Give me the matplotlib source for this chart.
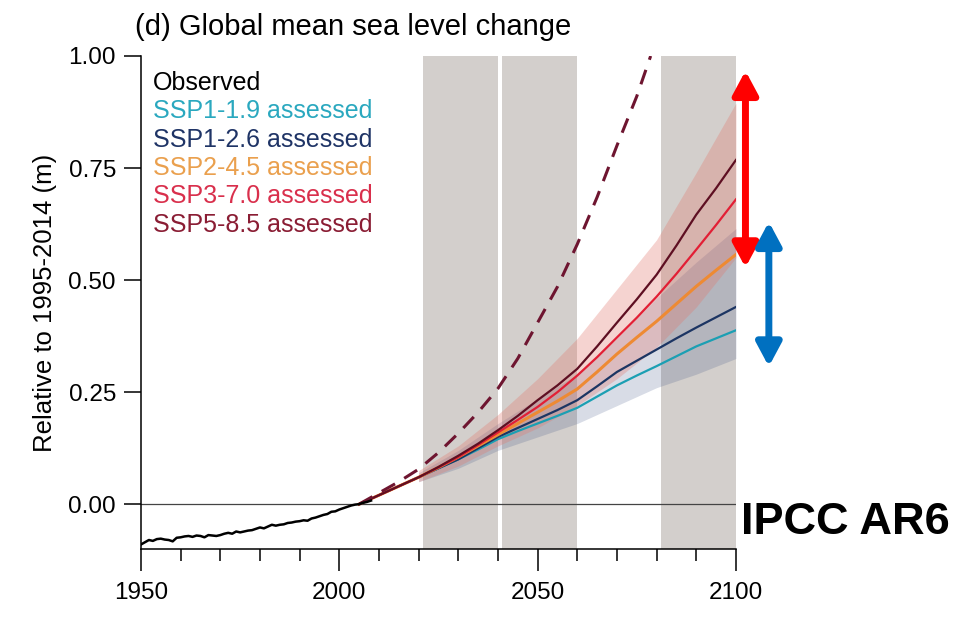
import numpy as np
import matplotlib as mpl
mpl.use("Agg")
import matplotlib.pyplot as plt

# observed GMSL (m, relative to 1995-2014)
obsYears = np.arange(1950, 2009)
obsVals = [-0.090, -0.085, -0.080, -0.082, -0.078, -0.077, -0.079, -0.080, -0.083, -0.075,
           -0.074, -0.072, -0.071, -0.073, -0.070, -0.071, -0.074, -0.069, -0.070, -0.071,
           -0.069, -0.066, -0.064, -0.066, -0.061, -0.063, -0.061, -0.059, -0.058, -0.055,
           -0.052, -0.054, -0.050, -0.046, -0.048, -0.046, -0.045, -0.042, -0.041, -0.039,
           -0.038, -0.036, -0.037, -0.032, -0.030, -0.027, -0.024, -0.022, -0.017, -0.016,
           -0.012, -0.009, -0.006, -0.003, -0.001, 0.000, 0.003, 0.005, 0.008]

# assessed medians, every 5 years 2005-2100
projYears = np.arange(2005, 2101, 5)
ssp119 = [0.0, 0.02, 0.04, 0.06, 0.080, 0.100, 0.122, 0.145, 0.163, 0.180,
          0.197, 0.215, 0.240, 0.265, 0.287, 0.308, 0.330, 0.352, 0.370, 0.388]
ssp126 = [0.0, 0.02, 0.04, 0.06, 0.080, 0.100, 0.125, 0.150, 0.170, 0.190,
          0.210, 0.232, 0.263, 0.295, 0.320, 0.345, 0.370, 0.394, 0.417, 0.440]
ssp245 = [0.0, 0.02, 0.04, 0.06, 0.082, 0.105, 0.130, 0.155, 0.180, 0.205,
          0.230, 0.257, 0.295, 0.335, 0.372, 0.408, 0.447, 0.486, 0.522, 0.557]
ssp370 = [0.0, 0.02, 0.04, 0.06, 0.082, 0.105, 0.132, 0.160, 0.188, 0.217,
          0.250, 0.287, 0.328, 0.372, 0.416, 0.463, 0.514, 0.568, 0.623, 0.680]
ssp585 = [0.0, 0.02, 0.04, 0.06, 0.083, 0.108, 0.135, 0.165, 0.197, 0.232,
          0.265, 0.302, 0.352, 0.405, 0.457, 0.512, 0.577, 0.646, 0.705, 0.768]

# likely ranges (shaded)
bandYears = [2020, 2030, 2040, 2050, 2060, 2070, 2080, 2090, 2100]
ssp126Lo = [0.050, 0.080, 0.120, 0.150, 0.180, 0.220, 0.260, 0.290, 0.325]
ssp126Hi = [0.070, 0.120, 0.180, 0.235, 0.290, 0.370, 0.460, 0.540, 0.615]
ssp370Lo = [0.050, 0.085, 0.130, 0.170, 0.220, 0.280, 0.350, 0.440, 0.550]
ssp370Hi = [0.075, 0.130, 0.200, 0.280, 0.370, 0.480, 0.590, 0.740, 0.895]

# SSP5-8.5 low-likelihood, high-impact storyline (dashed)
llhiYears = [2005, 2010, 2015, 2020, 2025, 2030, 2035, 2040, 2045, 2050, 2055, 2060, 2065, 2070, 2075, 2078.5]
llhiVals = [0.0, 0.025, 0.050, 0.078, 0.115, 0.158, 0.205, 0.258, 0.325, 0.405, 0.485, 0.580, 0.685, 0.800, 0.910, 1.0]

periods = [(2021, 2040), (2041, 2060), (2081, 2100)]

legendNames = ["Observed", "SSP1-1.9 assessed", "SSP1-2.6 assessed", "SSP2-4.5 assessed",
               "SSP3-7.0 assessed", "SSP5-8.5 assessed"]
legendColors = ["black", "#2aa8bf", "#1f3466", "#eaa04e", "#d92f4c", "#8a1d34"]

# ranges highlighted by the arrows (top, bottom)
redRange = (0.967, 0.528)
blueRange = (0.630, 0.307)

plt.rcParams['font.family'] = ['Liberation Sans', 'DejaVu Sans']

fig = plt.figure(figsize=(9.57, 6.18), dpi=100)
ax = fig.add_axes([0.1473, 0.1117, 0.6217, 0.7977])

for p0, p1 in periods:
  ax.axvspan(p0, p1, ymin=0, ymax=1, color='#d3cfcc', lw=0, zorder=0)
ax.axhline(0, color='#444444', lw=0.9, zorder=1)

ax.fill_between(bandYears, ssp126Lo, ssp126Hi, color='#3c5082', alpha=0.2, lw=0, zorder=2)
ax.fill_between(bandYears, ssp370Lo, ssp370Hi, color='#e2786e', alpha=0.32, lw=0, zorder=2)

ax.plot(projYears, ssp119, color='#1b9fb3', lw=1.6, zorder=4)
ax.plot(projYears, ssp126, color='#1c3563', lw=1.6, zorder=4)
ax.plot(projYears, ssp245, color='#ee8a33', lw=2.2, zorder=4)
ax.plot(projYears, ssp370, color='#e21f35', lw=1.6, zorder=5)
ax.plot(projYears, ssp585, color='#5e0f22', lw=1.6, zorder=6)
ax.plot(llhiYears, llhiVals, color='#6e1530', lw=2.2, dashes=(5, 3.5), zorder=6)
ax.plot(obsYears, obsVals, color='black', lw=1.8, zorder=7)

ax.set_xlim(1950, 2100)
ax.set_ylim(-0.1, 1.0)
for s in ['top', 'right']:
  ax.spines[s].set_visible(False)
for s in ['left', 'bottom']:
  ax.spines[s].set_linewidth(1.1)

ax.set_xticks([1950, 2000, 2050, 2100])
ax.set_xticks(np.arange(1950, 2101, 10), minor=True)
ax.set_yticks([0, 0.25, 0.5, 0.75, 1.0])
ax.set_yticklabels(['%.2f' % v for v in [0, 0.25, 0.5, 0.75, 1.0]])
ax.tick_params(axis='x', which='major', length=16, width=1.1, pad=8, labelsize=17.5)
ax.tick_params(axis='x', which='minor', length=8.5, width=1.1)
ax.tick_params(axis='y', which='major', length=12, width=1.1, pad=6, labelsize=17.5)
ax.set_ylabel('Relative to 1995-2014 (m)', fontsize=18.5, labelpad=8)

ax.text(-0.01, 1.03, '(d) Global mean sea level change', transform=ax.transAxes,
        fontsize=21, ha='left', va='bottom')

for i in range(len(legendNames)):
  ax.text(0.02, 0.945 - i * 0.0575, legendNames[i], color=legendColors[i],
          transform=ax.transAxes, fontsize=18, ha='left', va='center')

for xr, (top, bot), col in [(2102.4, redRange, '#ff0000'), (2108.3, blueRange, '#0070c0')]:
  ax.annotate('', xy=(xr, top), xytext=(xr, bot),
              arrowprops=dict(arrowstyle='<|-|>,head_length=1.4,head_width=0.75', color=col,
                              lw=5, mutation_scale=10, shrinkA=0, shrinkB=0),
              annotation_clip=False)

fig.text(741 / 957, 1 - 523 / 618, 'IPCC AR6', fontweight='bold', fontsize=32.5,
         ha='left', va='center')

plt.savefig('out.png', dpi=100)
